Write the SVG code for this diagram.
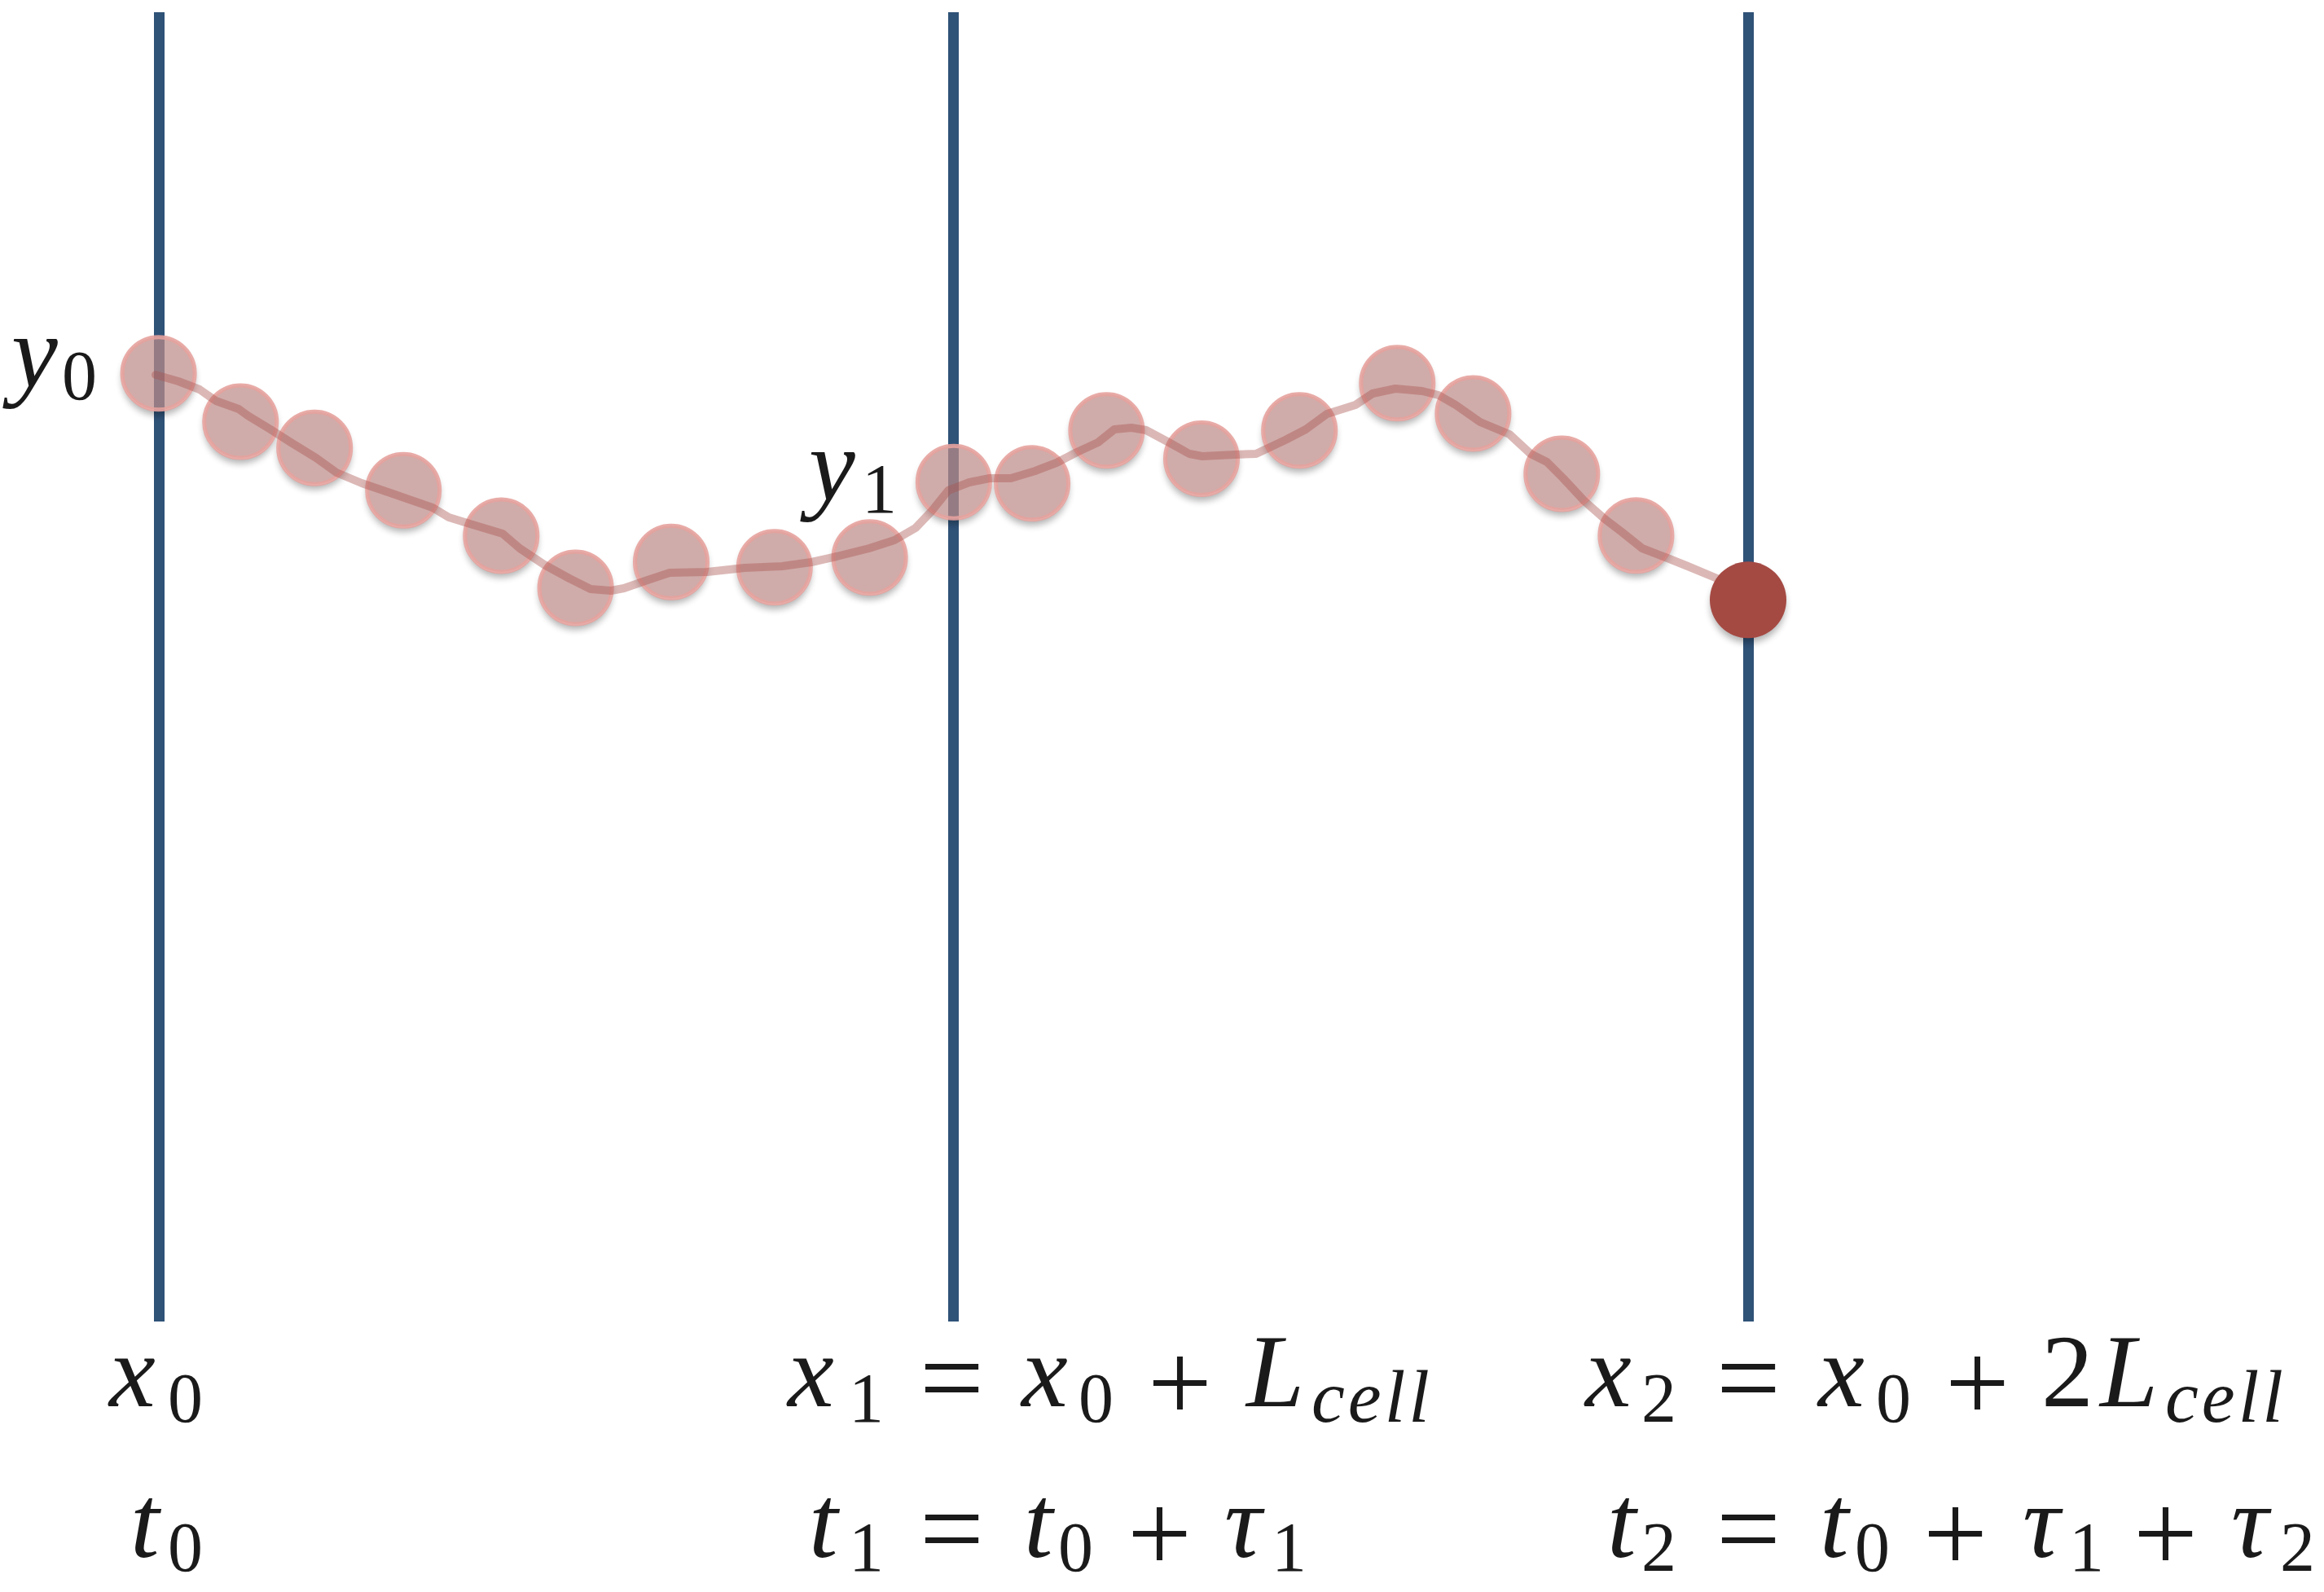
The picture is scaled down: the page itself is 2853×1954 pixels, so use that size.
<svg xmlns="http://www.w3.org/2000/svg" width="2853" height="1954" viewBox="0 0 2853 1954">
<style>
.axis{stroke:#2f5277;stroke-width:13;fill:none}
.sh{fill:#000;opacity:0.3;filter:url(#blur)}
.pt{fill:rgb(189,140,137);fill-opacity:0.72;stroke:#e6a29d;stroke-opacity:0.9;stroke-width:5}
.traj{fill:none;stroke:rgb(170,85,80);stroke-opacity:0.42;stroke-width:10;stroke-linejoin:round;stroke-linecap:round}
.end{fill:#a54a43}
.it{font-style:italic;font-size:128px}
.rm{font-style:normal;font-size:128px}
.op{font-style:normal;font-size:140px}
.sub{font-style:normal;font-size:86px}
.subi{font-size:92px;font-style:italic;letter-spacing:4px}
</style>
<defs>
<filter id="blur" x="-50%" y="-50%" width="200%" height="200%"><feGaussianBlur stdDeviation="4"/></filter>
<mask id="outside" maskUnits="userSpaceOnUse" x="0" y="0" width="2853" height="1954">
<rect width="2853" height="1954" fill="#fff"/>
<g fill="#000">
<circle cx="194.6" cy="458.3" r="46"/><circle cx="295.2" cy="517.5" r="46"/><circle cx="386.2" cy="549.7" r="46"/><circle cx="495.2" cy="601.8" r="46"/><circle cx="615.3" cy="657.5" r="46"/><circle cx="706.6" cy="721.5" r="46"/><circle cx="824" cy="689.7" r="46"/><circle cx="950.8" cy="696.3" r="46"/><circle cx="1067.6" cy="684.2" r="46"/><circle cx="1170.9" cy="591.8" r="46"/><circle cx="1267.1" cy="593.3" r="46"/><circle cx="1358.4" cy="528.2" r="46"/><circle cx="1475" cy="563" r="46"/><circle cx="1595.2" cy="528.3" r="46"/><circle cx="1715.3" cy="470.3" r="46"/><circle cx="1808.4" cy="507.5" r="46"/><circle cx="1917.3" cy="581.5" r="46"/><circle cx="2008.4" cy="657.3" r="46"/><circle cx="2146" cy="736.3" r="46"/>
</g>
</mask>
</defs>
<rect width="2853" height="1954" fill="#fff"/>
<g id="lines">
<line class="axis" x1="195.5" y1="15" x2="195.5" y2="1622"/>
<line class="axis" x1="1170.5" y1="15" x2="1170.5" y2="1622"/>
<line class="axis" x1="2146.5" y1="15" x2="2146.5" y2="1622"/>
</g>
<g id="shadows" mask="url(#outside)">
<circle class="sh" cx="194.6" cy="465" r="45"/>
<circle class="sh" cx="295.2" cy="524" r="45"/>
<circle class="sh" cx="386.2" cy="556" r="45"/>
<circle class="sh" cx="495.2" cy="608" r="45"/>
<circle class="sh" cx="615.3" cy="664" r="45"/>
<circle class="sh" cx="706.6" cy="728" r="45"/>
<circle class="sh" cx="824" cy="696" r="45"/>
<circle class="sh" cx="950.8" cy="703" r="45"/>
<circle class="sh" cx="1067.6" cy="691" r="45"/>
<circle class="sh" cx="1170.9" cy="598" r="45"/>
<circle class="sh" cx="1267.1" cy="600" r="45"/>
<circle class="sh" cx="1358.4" cy="535" r="45"/>
<circle class="sh" cx="1475" cy="570" r="45"/>
<circle class="sh" cx="1595.2" cy="535" r="45"/>
<circle class="sh" cx="1715.3" cy="477" r="45"/>
<circle class="sh" cx="1808.4" cy="514" r="45"/>
<circle class="sh" cx="1917.3" cy="588" r="45"/>
<circle class="sh" cx="2008.4" cy="664" r="45"/>
<circle class="sh" cx="2146" cy="743" r="46"/>
</g>
<g id="p1"><circle class="pt" cx="194.6" cy="458.3" r="44.5"/></g>
<g id="p2"><circle class="pt" cx="295.2" cy="517.5" r="44.5"/></g>
<g id="p3"><circle class="pt" cx="386.2" cy="549.7" r="44.5"/></g>
<g id="p4"><circle class="pt" cx="495.2" cy="601.8" r="44.5"/></g>
<g id="p5"><circle class="pt" cx="615.3" cy="657.5" r="44.5"/></g>
<g id="p6"><circle class="pt" cx="706.6" cy="721.5" r="44.5"/></g>
<g id="p7"><circle class="pt" cx="824" cy="689.7" r="44.5"/></g>
<g id="p8"><circle class="pt" cx="950.8" cy="696.3" r="44.5"/></g>
<g id="p9"><circle class="pt" cx="1067.6" cy="684.2" r="44.5"/></g>
<g id="p10"><circle class="pt" cx="1170.9" cy="591.8" r="44.5"/></g>
<g id="p11"><circle class="pt" cx="1267.1" cy="593.3" r="44.5"/></g>
<g id="p12"><circle class="pt" cx="1358.4" cy="528.2" r="44.5"/></g>
<g id="p13"><circle class="pt" cx="1475" cy="563" r="44.5"/></g>
<g id="p14"><circle class="pt" cx="1595.2" cy="528.3" r="44.5"/></g>
<g id="p15"><circle class="pt" cx="1715.3" cy="470.3" r="44.5"/></g>
<g id="p16"><circle class="pt" cx="1808.4" cy="507.5" r="44.5"/></g>
<g id="p17"><circle class="pt" cx="1917.3" cy="581.5" r="44.5"/></g>
<g id="p18"><circle class="pt" cx="2008.4" cy="657.3" r="44.5"/></g>
<g id="trajectory">
<polyline class="traj" points="191,460 219,468 245,478 265,492 293,502 304,510 332,527 357,543 388,562 413,580 444,593 485,607 531,623 551,635 577,643 617,655 638,673 668,693 699,710 725,723 750,725 766,722 792,713 822,703 868,702 914,697 960,695 996,690 1027,683 1067,673 1098,663 1124,648 1144,627 1164,602 1190,592 1215,587 1241,587 1271,578 1297,568 1322,555 1348,543 1368,527 1389,525 1407,528 1435,543 1460,557 1476,560 1516,558 1542,557 1578,540 1603,527 1629,508 1664,497 1685,483 1713,477 1746,480 1766,485 1787,497 1817,518 1853,533 1879,557 1899,567 1919,587 1945,615 1970,637 1991,653 2016,673 2047,685 2072,695 2108,710 2140,730"/>
</g>
<g id="end-point"><circle class="end" cx="2146" cy="736.3" r="47"/></g>
<g id="labels" font-family="Liberation Serif, serif" fill="#1a1a1a">
<g id="label-y0"><text font-family="Liberation Serif"><tspan class="it" x="14" y="475">y</tspan><tspan class="sub" x="76" y="490">0</tspan></text></g>
<g id="label-y1"><text font-family="Liberation Serif"><tspan class="it" x="993" y="614">y</tspan><tspan class="sub" x="1058" y="629">1</tspan></text></g>
<g id="label-x0"><text font-family="Liberation Serif"><tspan class="it" x="134" y="1726">x</tspan><tspan class="sub" x="206" y="1745">0</tspan></text></g>
<g id="label-t0"><text font-family="Liberation Serif"><tspan class="it" x="160" y="1911">t</tspan><tspan class="sub" x="206" y="1928">0</tspan></text></g>
<g id="label-x1"><text font-family="Liberation Serif"><tspan class="it" x="967" y="1726">x</tspan><tspan class="sub" x="1042" y="1745">1</tspan><tspan class="op" x="1129" y="1738">=</tspan><tspan class="it" x="1254" y="1726">x</tspan><tspan class="sub" x="1324" y="1745">0</tspan><tspan class="op" x="1409" y="1744">+</tspan><tspan class="it" x="1530" y="1726">L</tspan><tspan class="subi" x="1610" y="1745">cell</tspan></text></g>
<g id="label-t1"><text font-family="Liberation Serif"><tspan class="it" x="993" y="1911">t</tspan><tspan class="sub" x="1042" y="1928">1</tspan><tspan class="op" x="1129" y="1923">=</tspan><tspan class="it" x="1257" y="1911">t</tspan><tspan class="sub" x="1299" y="1928">0</tspan><tspan class="op" x="1384" y="1929">+</tspan><tspan class="it" x="1503" y="1911">τ</tspan><tspan class="sub" x="1561" y="1928">1</tspan></text></g>
<g id="label-x2"><text font-family="Liberation Serif"><tspan class="it" x="1946" y="1726">x</tspan><tspan class="sub" x="2015" y="1745">2</tspan><tspan class="op" x="2107" y="1738">=</tspan><tspan class="it" x="2232" y="1726">x</tspan><tspan class="sub" x="2303" y="1745">0</tspan><tspan class="op" x="2388" y="1744">+</tspan><tspan class="rm" x="2506" y="1726">2</tspan><tspan class="it" x="2578" y="1726">L</tspan><tspan class="subi" x="2658" y="1745">cell</tspan></text></g>
<g id="label-t2"><text font-family="Liberation Serif"><tspan class="it" x="1973" y="1911">t</tspan><tspan class="sub" x="2015" y="1928">2</tspan><tspan class="op" x="2107" y="1923">=</tspan><tspan class="it" x="2234" y="1911">t</tspan><tspan class="sub" x="2277" y="1928">0</tspan><tspan class="op" x="2361" y="1929">+</tspan><tspan class="it" x="2483" y="1911">τ</tspan><tspan class="sub" x="2540" y="1928">1</tspan><tspan class="op" x="2619" y="1929">+</tspan><tspan class="it" x="2739" y="1911">τ</tspan><tspan class="sub" x="2799" y="1928">2</tspan></text></g>
</g>
</svg>
